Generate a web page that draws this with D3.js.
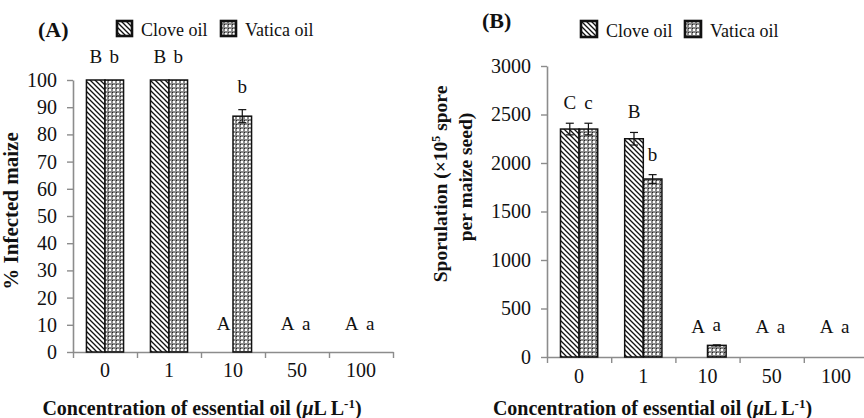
<!DOCTYPE html>
<html>
<head>
<meta charset="utf-8">
<script src="https://cdn.jsdelivr.net/npm/d3@7/dist/d3.min.js"></script>
<style>
    body { margin: 0; background: #fff; }
    svg { display: block; }
</style>
</head>
<body>
<svg id="chart" width="864" height="418"></svg>
<script>

// Concentrations of essential oil (µL L-1).
const categories = ['0', '1', '10', '50', '100'];
const seriesNames = ['Clove oil', 'Vatica oil'];

// (A) % infected maize.
const infectedClove = [100, 100, 0, 0, 0];
const infectedVatica = [100, 100, 86.7, 0, 0];
const infectedCloveErr = [0, 0, 0, 0, 0];
const infectedVaticaErr = [0, 0, 2.4, 0, 0];
const infectedCloveLetters = ['B', 'B', 'A', 'A', 'A'];
const infectedVaticaLetters = ['b', 'b', 'b', 'a', 'a'];
const infectedTicks = [0, 10, 20, 30, 40, 50, 60, 70, 80, 90, 100];

// (B) sporulation (x10^5 spore per maize seed).
const sporClove = [2350, 2250, 0, 0, 0];
const sporVatica = [2350, 1835, 120, 0, 0];
const sporCloveErr = [60, 65, 0, 0, 0];
const sporVaticaErr = [60, 45, 5, 0, 0];
const sporCloveLetters = ['C', 'B', 'A', 'A', 'A'];
const sporVaticaLetters = ['c', 'b', 'a', 'a', 'a'];
const sporTicks = [0, 500, 1000, 1500, 2000, 2500, 3000];

const serif = 'Liberation Serif';
const axisColor = '#8c8c8c';

const svg = d3.select('#chart');

svg.append('rect').attr('width', 864).attr('height', 418).attr('fill', '#fff');

// Fill patterns for the two oils.
const defs = svg.append('defs');

const clove = defs.append('pattern')
    .attr('id', 'clove')
    .attr('patternUnits', 'userSpaceOnUse')
    .attr('width', 5)
    .attr('height', 5);
clove.append('rect').attr('width', 5).attr('height', 5).attr('fill', '#fff');
clove.append('path')
    .attr('d', 'M0,0L5,5M-1,4L1,6M4,-1L6,1')
    .attr('stroke', '#111')
    .attr('stroke-width', 1.3);

const vatica = defs.append('pattern')
    .attr('id', 'vatica')
    .attr('patternUnits', 'userSpaceOnUse')
    .attr('width', 4)
    .attr('height', 4);
vatica.append('rect').attr('width', 4).attr('height', 4).attr('fill', '#8a8a8a');
vatica.append('rect').attr('x', 1).attr('y', 1).attr('width', 2).attr('height', 2).attr('fill', '#fff');
vatica.append('rect').attr('x', 0).attr('y', 0).attr('width', 1).attr('height', 1).attr('fill', '#222');

const fills = ['url(#clove)', 'url(#vatica)'];

/**
 * @method addText
 * @param {Object} parent
 * @param {Number} size
 * @return {Object}
 */
const addText = (parent, size) => parent.append('text')
    .attr('font-family', serif)
    .attr('font-size', size)
    .attr('fill', '#111');

/**
 * @method drawPanel
 * @param {Object} panel
 * @return {void}
 */
const drawPanel = panel => {

    const g = svg.append('g');

    const x = d3.scaleBand()
        .domain(categories)
        .range([panel.left, panel.right])
        .paddingInner(0.42)
        .paddingOuter(0.21);

    const xSeries = d3.scaleBand()
        .domain(seriesNames)
        .range([0, x.bandwidth()]);

    const y = d3.scaleLinear()
        .domain([0, panel.max])
        .range([panel.bottom, panel.top]);

    // Band boundaries for the category ticks.
    const edges = d3.scaleLinear()
        .domain([0, categories.length])
        .range([panel.left, panel.right]);

    // Y axis.
    const yAxis = g.append('g')
        .attr('transform', `translate(${panel.left},0)`)
        .call(d3.axisLeft(y)
            .tickValues(panel.ticks)
            .tickFormat(d3.format('d'))
            .tickSize(6)
            .tickSizeOuter(0)
            .tickPadding(10));

    // X axis labels, then the boundary ticks.
    const xAxis = g.append('g')
        .attr('transform', `translate(0,${panel.bottom})`)
        .call(d3.axisBottom(x).tickSize(0).tickPadding(panel.labelPad));

    const xEdges = g.append('g')
        .attr('transform', `translate(0,${panel.bottom})`)
        .call(d3.axisBottom(edges).ticks(categories.length).tickSize(6).tickFormat(''));

    [yAxis, xAxis, xEdges].forEach(axis => {
        axis.attr('font-family', serif).attr('font-size', 20);
        axis.select('.domain').attr('stroke', axisColor).attr('stroke-width', 1.6);
        axis.selectAll('.tick line').attr('stroke', axisColor).attr('stroke-width', 1.4);
        axis.selectAll('.tick text')
            .attr('font-family', serif)
            .attr('font-size', 20)
            .attr('fill', '#111');
    });
    xEdges.select('.domain').remove();

    // Bars, error bars and significance letters.
    const series = seriesNames.map((name, i) => ({
        name,
        fill: fills[i],
        values: panel.values[i],
        errors: panel.errors[i],
        letters: panel.letters[i]
    }));

    series.forEach(s => {

        const cells = categories.map((c, j) => ({
            c,
            v: s.values[j],
            e: s.errors[j],
            letter: s.letters[j],
            cx: x(c) + xSeries(s.name) + xSeries.bandwidth() / 2
        }));

        g.selectAll(null)
            .data(cells.filter(d => d.v > 0))
            .join('rect')
            .attr('x', d => x(d.c) + xSeries(s.name))
            .attr('y', d => y(d.v))
            .attr('width', xSeries.bandwidth())
            .attr('height', d => y(0) - y(d.v))
            .attr('fill', s.fill)
            .attr('stroke', '#111')
            .attr('stroke-width', 1.5);

        const err = g.selectAll(null)
            .data(cells.filter(d => d.e > 0))
            .join('g')
            .attr('stroke', '#111')
            .attr('stroke-width', 1.2);

        err.append('line')
            .attr('x1', d => d.cx).attr('x2', d => d.cx)
            .attr('y1', d => y(d.v - d.e)).attr('y2', d => y(d.v + d.e));
        err.append('line')
            .attr('x1', d => d.cx - 4).attr('x2', d => d.cx + 4)
            .attr('y1', d => y(d.v + d.e)).attr('y2', d => y(d.v + d.e));
        err.append('line')
            .attr('x1', d => d.cx - 4).attr('x2', d => d.cx + 4)
            .attr('y1', d => y(d.v - d.e)).attr('y2', d => y(d.v - d.e));

        g.selectAll(null)
            .data(cells.filter(d => d.letter))
            .join('text')
            .attr('font-family', serif)
            .attr('font-size', 19)
            .attr('fill', '#111')
            .attr('x', d => d.cx)
            .attr('y', d => Math.min(y(d.v + d.e) - panel.letterGap, y(0) - panel.letterFloor))
            .attr('text-anchor', 'middle')
            .text(d => d.letter);

    });

    // Legend.
    seriesNames.forEach((name, i) => {
        const lx = panel.legendX[i];
        g.append('rect')
            .attr('x', lx)
            .attr('y', panel.legendY - panel.legendSize)
            .attr('width', panel.legendSize)
            .attr('height', panel.legendSize)
            .attr('fill', fills[i])
            .attr('stroke', '#111')
            .attr('stroke-width', 2.6);
        addText(g, 18)
            .attr('x', lx + panel.legendSize + 9)
            .attr('y', panel.legendY)
            .text(name);
    });

    // Panel label.
    addText(g, 22)
        .attr('x', panel.tagX)
        .attr('y', panel.tagY)
        .attr('font-weight', 'bold')
        .text(panel.tag);

    // X axis title.
    const xTitle = addText(g, 20)
        .attr('x', (panel.left + panel.right) / 2 + panel.titleShift)
        .attr('y', 415)
        .attr('text-anchor', 'middle')
        .attr('font-weight', 'bold');
    xTitle.append('tspan').text('Concentration of essential oil (');
    xTitle.append('tspan').attr('font-style', 'italic').text('μ');
    xTitle.append('tspan').text('L L');
    xTitle.append('tspan').attr('dy', -7).attr('font-size', 13).text('-1');
    xTitle.append('tspan').attr('dy', 7).text(')');

    // Y axis title lines.
    panel.yTitle.forEach(line => {
        const t = addText(g, line.size)
            .attr('transform', `translate(${line.x},${line.y}) rotate(-90)`)
            .attr('text-anchor', 'middle')
            .attr('font-weight', 'bold');
        line.parts.forEach(p => {
            const span = t.append('tspan').text(p.text);
            if (p.sup) span.attr('dy', -7).attr('font-size', 12);
            if (p.after) span.attr('dy', 7);
        });
    });

};

drawPanel({
    left: 73, right: 393, top: 80, bottom: 352, max: 100,
    ticks: infectedTicks,
    values: [infectedClove, infectedVatica],
    errors: [infectedCloveErr, infectedVaticaErr],
    letters: [infectedCloveLetters, infectedVaticaLetters],
    letterGap: 17, letterFloor: 22, labelPad: 11,
    legendX: [117, 221], legendY: 36, legendSize: 15,
    tag: '(A)', tagX: 38, tagY: 37, titleShift: -31,
    yTitle: [
        { x: 18, y: 211, size: 21, parts: [{ text: '% Infected maize' }] }
    ]
});

drawPanel({
    left: 547, right: 868, top: 66, bottom: 357, max: 3000,
    ticks: sporTicks,
    values: [sporClove, sporVatica],
    errors: [sporCloveErr, sporVaticaErr],
    letters: [sporCloveLetters, sporVaticaLetters],
    letterGap: 14, letterFloor: 24, labelPad: 12,
    legendX: [581, 685], legendY: 37, legendSize: 16,
    tag: '(B)', tagX: 482, tagY: 28, titleShift: -55,
    yTitle: [
        { x: 447, y: 184, size: 19.5, parts: [{ text: 'Sporulation (×10' }, { text: '5', sup: true }, { text: ' spore', after: true }] },
        { x: 472, y: 177, size: 19.5, parts: [{ text: 'per maize seed)' }] }
    ]
});

</script>
</body>
</html>
